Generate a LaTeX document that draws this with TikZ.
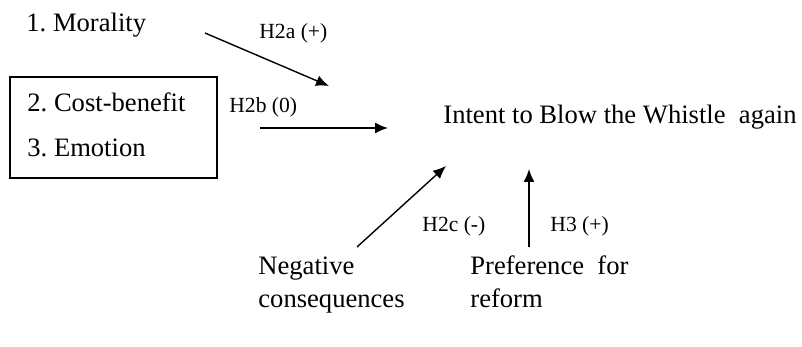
\documentclass[tikz,border=0pt]{standalone}
\usepackage{fontspec}
\setmainfont{Liberation Serif}
\usetikzlibrary{arrows.meta,positioning}
\frenchspacing
\tikzset{
	big/.style={font=\fontsize{13.3}{16.5}\selectfont,inner sep=0pt,anchor=base west,align=left},
	hyp/.style={font=\fontsize{10.8}{13}\selectfont,inner sep=0pt,anchor=base west},
	link/.style={-{Latex[length=6.5pt,width=5.5pt]},line width=0.7pt},
}
\begin{document}
\begin{tikzpicture}[x=0.5pt,y=-0.5pt]
	\useasboundingbox (0,0) rectangle (802,347);
	% variables
	\node[big] (moral) at (26,32) {1. Morality};
	\node[big] (cost) at (27,112) {2. Cost-benefit};
	\node[big] (emot) at (27,157) {3. Emotion};
	\draw[line width=0.7pt] (10,77) rectangle (217,178);
	\node[big] (intent) at (443,124) {Intent to Blow the Whistle\ \ again};
	\node[big] (neg) at (258,307) {Negative\\consequences};
	\node[big] (pref) at (470,307) {Preference\ \ for\\reform};
	% arrow ends
	\coordinate (a1) at (205,33);
	\coordinate (a2) at (329,86);
	\coordinate (b1) at (260,128);
	\coordinate (b2) at (388,128);
	\coordinate (c1) at (357,247);
	\coordinate (c2) at (446,166);
	\coordinate (d1) at (529,247);
	\coordinate (d2) at (529,169);
	\draw[link] (a1) -- (a2);
	\draw[link] (b1) -- (b2);
	\draw[link] (c1) -- (c2);
	\draw[link] (d1) -- (d2);
	% hypotheses
	\node[hyp] (h2a) at (259,39) {H2a\ (+)};
	\node[hyp] (h2b) at (229,113) {H2b\ (0)};
	\node[hyp] (h2c) at (422,232) {H2c\ (-)};
	\node[hyp] (h3) at (550,232) {H3\ (+)};
\end{tikzpicture}
\end{document}
